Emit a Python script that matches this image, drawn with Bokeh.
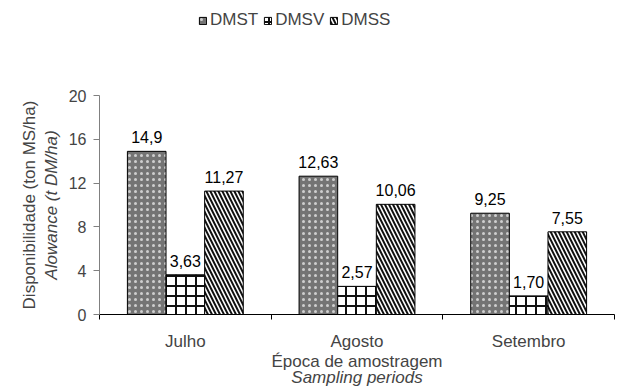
from bokeh.plotting import figure
from bokeh.layouts import column
from bokeh.models import (Range1d, FixedTicker, LinearAxis, Legend, LegendItem,
                          ColumnDataSource)
from bokeh.core.properties import value
from bokeh.embed import file_html
from bokeh.resources import INLINE

# ---- data ----
categories = ["Julho", "Agosto", "Setembro"]
series = ["DMST", "DMSV", "DMSS"]
dmst = [14.9, 12.63, 9.25]
dmsv = [3.63, 2.57, 1.70]
dmss = [11.27, 10.06, 7.55]
dmst_labels = ["14,9", "12,63", "9,25"]
dmsv_labels = ["3,63", "2,57", "1,70"]
dmss_labels = ["11,27", "10,06", "7,55"]
y_ticks = [0, 4, 8, 12, 16, 20]

FONT = "Liberation Sans"
FS_TICK = "16px"
FS_LAB = "17px"
TOP_H = 80

p = figure(width=619, height=391 - TOP_H, output_backend="svg", toolbar_location=None,
           x_range=Range1d(0, len(categories)), y_range=Range1d(0, 20),
           min_border_left=99, min_border_right=5, min_border_top=95 - TOP_H,
           min_border_bottom=77)
p.grid.visible = False
p.outline_line_color = None
p.background_fill_color = "white"
p.border_fill_color = "white"

offset = 0.225
bw = 0.225
styles = [
    dict(fill_color="#747474", hatch_pattern="dot", hatch_color="#cfcfcf",
         hatch_scale=6, hatch_weight=1.5),
    dict(fill_color="white", hatch_pattern="cross", hatch_color="#111111",
         hatch_scale=10, hatch_weight=2),
    dict(fill_color="white", hatch_pattern="left_diagonal_line", hatch_color="#111111",
         hatch_scale=8, hatch_weight=2),
]
for k, (vals, labs, st) in enumerate(zip([dmst, dmsv, dmss],
                                          [dmst_labels, dmsv_labels, dmss_labels],
                                          styles)):
    xs = [i + 0.5 + (k - 1) * offset for i in range(len(categories))]
    src = ColumnDataSource(dict(x=xs, top=vals, lab=labs))
    p.vbar(x="x", top="top", width=bw, source=src, line_color="black",
           line_width=1, **st)
    p.text(x="x", y="top", text="lab", source=src, text_align="center",
           text_baseline="bottom", y_offset=-8, text_font=value(FONT),
           text_font_size=FS_TICK, text_color="black")

# y axis
ya = p.yaxis[0]
ya.ticker = FixedTicker(ticks=y_ticks)
ya.minor_tick_line_color = None
ya.major_tick_out = 6
ya.major_tick_in = 0
ya.axis_line_color = "#808080"
ya.major_tick_line_color = "#808080"
ya.major_label_text_font = FONT
ya.major_label_text_font_size = FS_TICK
ya.major_label_standoff = 7
ya.axis_label = "Alowance (t DM/ha)"
ya.axis_label_text_font = FONT
ya.axis_label_text_font_style = "italic"
ya.axis_label_text_font_size = FS_LAB
ya.axis_label_standoff = 5

ya2 = LinearAxis(ticker=FixedTicker(ticks=[]), axis_line_color=None,
                 major_tick_line_color=None, minor_tick_line_color=None,
                 major_tick_out=0, major_tick_in=0, minor_tick_out=0, minor_tick_in=0,
                 major_label_standoff=0, major_label_text_font_size="0px",
                 axis_label="Disponibilidade (ton MS/ha)",
                 axis_label_text_font=FONT, axis_label_text_font_style="normal",
                 axis_label_text_font_size=FS_LAB, axis_label_standoff=0)
p.add_layout(ya2, "left")

# x axis
xa = p.xaxis[0]
centers = [i + 0.5 for i in range(len(categories))]
xa.ticker = FixedTicker(ticks=centers, minor_ticks=list(range(len(categories) + 1)))
xa.major_label_overrides = {c: n for c, n in zip(centers, categories)}
xa.major_tick_line_color = None
xa.major_tick_out = 0
xa.major_tick_in = 0
xa.minor_tick_out = 5
xa.minor_tick_in = 0
xa.minor_tick_line_color = "black"
xa.axis_line_color = "black"
xa.major_label_text_font = FONT
xa.major_label_text_font_size = FS_LAB
xa.major_label_standoff = 12
xa.axis_label = "Época de amostragem"
xa.axis_label_text_font = FONT
xa.axis_label_text_font_style = "normal"
xa.axis_label_text_font_size = FS_LAB
xa.axis_label_standoff = -2

xa2 = LinearAxis(ticker=FixedTicker(ticks=[]), axis_line_color=None,
                 major_tick_line_color=None, minor_tick_line_color=None,
                 major_tick_out=0, major_tick_in=0, minor_tick_out=0, minor_tick_in=0,
                 major_label_standoff=0, major_label_text_font_size="0px",
                 axis_label="Sampling periods",
                 axis_label_text_font=FONT, axis_label_text_font_style="italic",
                 axis_label_text_font_size=FS_LAB, axis_label_standoff=-6)
p.add_layout(xa2, "below")

# ---- legend strip on top ----
lf = figure(width=619, height=TOP_H, output_backend="svg", toolbar_location=None,
            x_range=Range1d(0, 1), y_range=Range1d(0, 1),
            min_border=0, x_axis_type=None, y_axis_type=None)
lf.grid.visible = False
lf.outline_line_color = None
lf.background_fill_color = "white"
lf.border_fill_color = "white"
dummies = [lf.vbar(x=[-5], top=[-5], width=0.1, line_color="black", line_width=1, **st)
           for st in styles]
legend = Legend(items=[LegendItem(label=s, renderers=[r]) for s, r in zip(series, dummies)],
                orientation="horizontal", location=(99, 50),
                border_line_color=None, background_fill_alpha=0,
                glyph_width=9, glyph_height=9, spacing=5, label_standoff=3,
                padding=0, margin=0, label_text_font=FONT,
                label_text_font_size=FS_LAB, label_height=12)
lf.add_layout(legend, "center")

layout = column(lf, p, spacing=0)
open("out.html", "w").write(file_html(layout, INLINE))
